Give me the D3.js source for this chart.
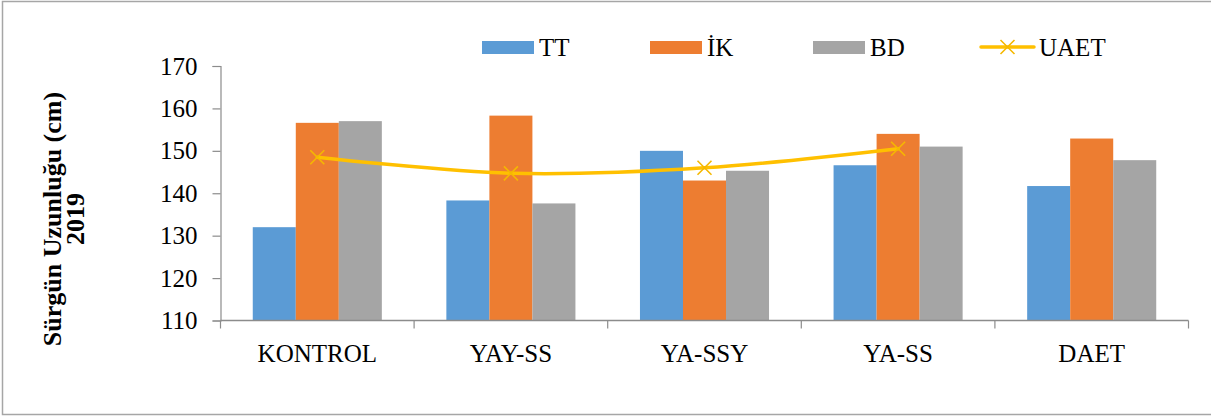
<!DOCTYPE html>
<html>
<head>
<meta charset="utf-8">
<script src="https://cdn.jsdelivr.net/npm/d3@7"></script>
<style>
  html, body { margin: 0; padding: 0; background: #fff; }
  svg { display: block; }
  text { font-family: "Liberation Serif", "Times New Roman", serif; fill: #000; }
</style>
</head>
<body>
<svg id="chart" width="1211" height="416"></svg>
<script>
const categories = ["KONTROL", "YAY-SS", "YA-SSY", "YA-SS", "DAET"];
const seriesNames = ["TT", "İK", "BD"];
const valuesTT = [132.0, 138.3, 150.0, 146.6, 141.7];
const valuesIK = [156.6, 158.3, 143.0, 154.0, 152.9];
const valuesBD = [157.0, 137.6, 145.3, 151.0, 147.8];
const lineName = "UAET";
const valuesUAET = [148.5, 144.7, 146.0, 150.5, null];
const yTicks = [110, 120, 130, 140, 150, 160, 170];
const yTitle = ["Sürgün Uzunluğu (cm)", "2019"];

(function () {
const colors = { "TT": "#5B9BD5", "İK": "#ED7D31", "BD": "#A5A5A5", "UAET": "#FFC000" };
const seriesValues = { "TT": valuesTT, "İK": valuesIK, "BD": valuesBD };

const svg = d3.select("#chart");
const pLeft = 220.5, pRight = 1188.5, pTop = 66, pBottom = 320.5;
const axisColor = "#8C8C8C";

// outer frame
svg.append("path")
  .attr("d", "M1211,1.5 H2.5 V414.5 H1211")
  .attr("fill", "none").attr("stroke", "#A6A6A6").attr("stroke-width", 1.5);

const x = d3.scaleBand().domain(categories).range([pLeft, pRight]).padding(0);
const bw = x.bandwidth();
const groupFrac = 3 / 4.5;
const xs = d3.scaleBand().domain(seriesNames)
  .range([bw * (1 - groupFrac) / 2, bw * (1 + groupFrac) / 2]).padding(0);
const y = d3.scaleLinear().domain([110, 170]).range([pBottom, pTop]);

// bars
seriesNames.forEach(s => {
  svg.append("g").selectAll("rect")
    .data(categories.map((c, i) => ({ c, v: seriesValues[s][i] })))
    .join("rect")
    .attr("x", d => x(d.c) + xs(s))
    .attr("width", xs.bandwidth())
    .attr("y", d => y(d.v))
    .attr("height", d => y(110) - y(d.v))
    .attr("fill", colors[s]);
});

// y axis
const yAxis = svg.append("g").attr("transform", `translate(${pLeft},0)`)
  .call(d3.axisLeft(y).tickValues(yTicks).tickSize(8).tickPadding(15).tickFormat(d3.format("d")));
yAxis.select(".domain").attr("stroke", axisColor).attr("stroke-width", 1.2);
yAxis.selectAll(".tick line").attr("stroke", axisColor).attr("stroke-width", 1.2);
yAxis.selectAll(".tick text").attr("font-size", 25).attr("font-family", "Liberation Serif").attr("fill", "#000");

// x axis
const xAxisG = svg.append("g").attr("transform", `translate(0,${pBottom})`);
xAxisG.append("line").attr("x1", pLeft).attr("x2", pRight).attr("y1", 0).attr("y2", 0)
  .attr("stroke", axisColor).attr("stroke-width", 1.5);
const boundaries = categories.map(c => x(c)).concat([pRight]);
xAxisG.selectAll("line.tk").data(boundaries).join("line").attr("class", "tk")
  .attr("x1", d => d).attr("x2", d => d).attr("y1", 0).attr("y2", 8)
  .attr("stroke", axisColor).attr("stroke-width", 1.2);
xAxisG.selectAll("text").data(categories).join("text")
  .attr("x", d => x(d) + bw / 2).attr("y", 41.5)
  .attr("text-anchor", "middle").attr("font-size", 25).text(d => d);

// UAET line
const pts = categories.map((c, i) => ({ c, v: valuesUAET[i] })).filter(d => d.v != null);
const line = d3.line().x(d => x(d.c) + bw / 2).y(d => y(d.v)).curve(d3.curveCatmullRom.alpha(0));
svg.append("path").datum(pts).attr("d", line)
  .attr("fill", "none").attr("stroke", colors.UAET).attr("stroke-width", 3.5).attr("stroke-linecap", "round");
const m = 7;
svg.append("g").selectAll("path").data(pts).join("path")
  .attr("d", d => {
    const cx = x(d.c) + bw / 2, cy = y(d.v);
    return `M${cx - m},${cy - m}L${cx + m},${cy + m}M${cx - m},${cy + m}L${cx + m},${cy - m}`;
  })
  .attr("stroke", "#F5B800").attr("stroke-width", 1.6).attr("fill", "none");

// legend
const legendX = [482, 650, 813];
const legend = svg.append("g");
seriesNames.forEach((s, i) => {
  legend.append("rect").attr("x", legendX[i]).attr("y", 41).attr("width", 52).attr("height", 13).attr("fill", colors[s]);
  legend.append("text").attr("x", legendX[i] + 57).attr("y", 56).attr("font-size", 25).text(s);
});
const lx = 981;
legend.append("line").attr("x1", lx).attr("x2", lx + 53).attr("y1", 47).attr("y2", 47)
  .attr("stroke", colors.UAET).attr("stroke-width", 3.5).attr("stroke-linecap", "round");
legend.append("path")
  .attr("d", `M${lx + 26.5 - m},${47 - m}L${lx + 26.5 + m},${47 + m}M${lx + 26.5 - m},${47 + m}L${lx + 26.5 + m},${47 - m}`)
  .attr("stroke", "#F5B800").attr("stroke-width", 1.6);
legend.append("text").attr("x", lx + 58).attr("y", 56).attr("font-size", 25).text(lineName);

// y title
svg.append("text").attr("transform", "translate(61,219) rotate(-90)")
  .attr("text-anchor", "middle").attr("font-size", 26).attr("font-weight", "bold").text(yTitle[0]);
svg.append("text").attr("transform", "translate(84,219) rotate(-90)")
  .attr("text-anchor", "middle").attr("font-size", 26).attr("font-weight", "bold").text(yTitle[1]);
})();
</script>
</body>
</html>
